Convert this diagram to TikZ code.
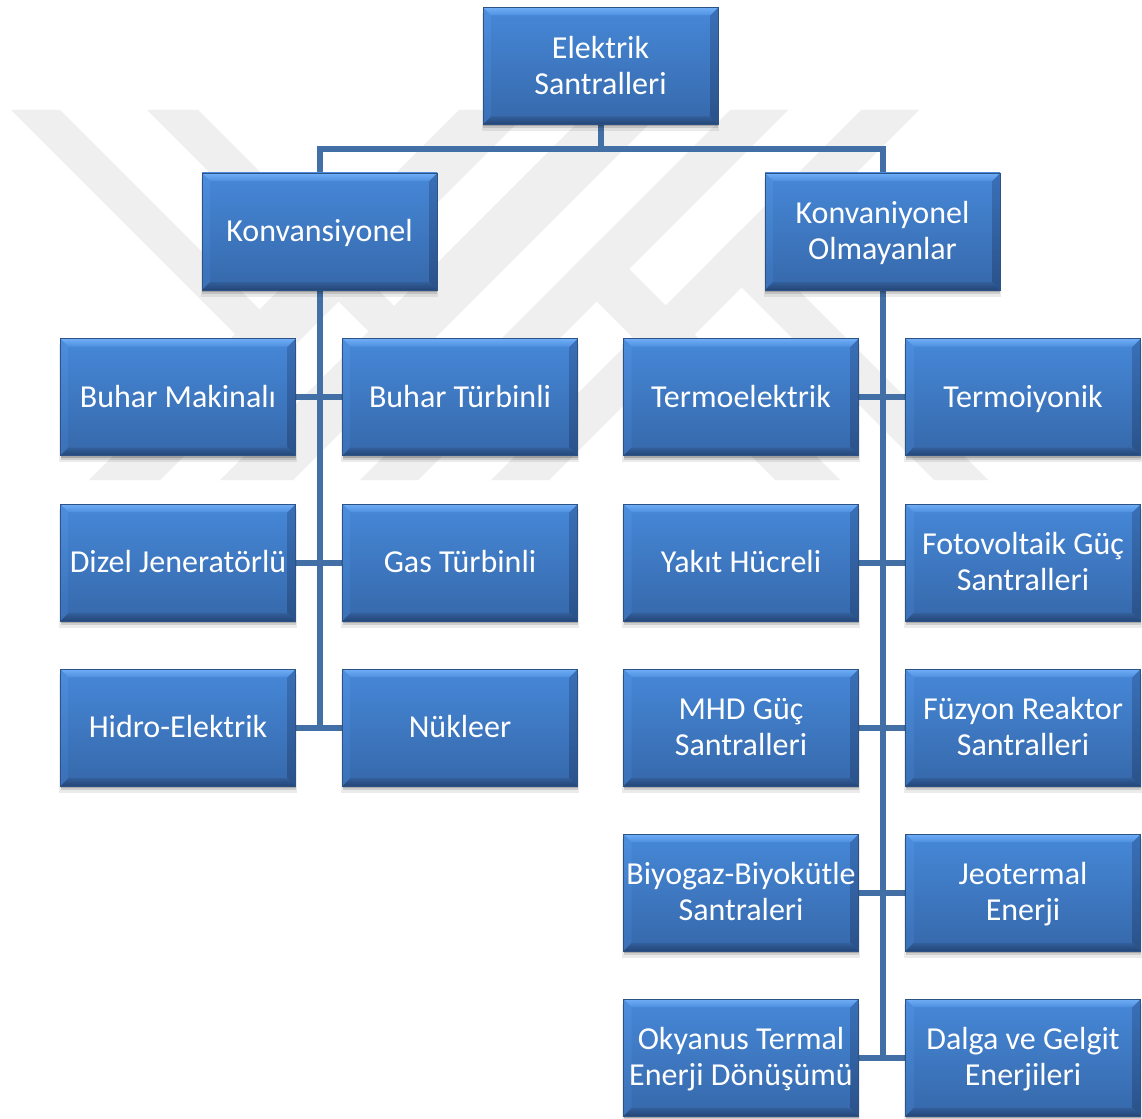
\documentclass[tikz,border=0pt]{standalone}
\usepackage{fontspec}
\newfontfamily\boxfont{Carlito}
\usetikzlibrary{calc,shadows,backgrounds}

\definecolor{wmgray}{RGB}{239,239,239}
\definecolor{connblue}{RGB}{66,112,166}
\definecolor{facetop}{RGB}{70,136,216}
\definecolor{facebot}{RGB}{54,104,170}
\definecolor{bevtopA}{RGB}{112,174,246}
\definecolor{bevtopB}{RGB}{78,144,224}
\definecolor{bevbotA}{RGB}{50,94,154}
\definecolor{bevbotB}{RGB}{36,70,118}
\definecolor{bevleftA}{RGB}{76,142,222}
\definecolor{bevleftB}{RGB}{58,112,182}
\definecolor{bevrightA}{RGB}{58,112,184}
\definecolor{bevrightB}{RGB}{42,82,138}
\definecolor{boxline}{RGB}{44,82,134}

\tikzset{
  x=1pt, y=1pt,
  box/.style={
    draw=boxline, line width=0.6pt,
    minimum width=235pt, minimum height=117pt, inner sep=0pt,
    top color=facetop, bottom color=facebot,
    text=white, align=center,
    text height=20.6pt, text depth=0pt,
    font={\boxfont\fontsize{32pt}{36pt}\selectfont},
    drop shadow={shadow xshift=0pt, shadow yshift=-6pt, shadow scale=1.01, opacity=0.08, fill=black},
    drop shadow={shadow xshift=0pt, shadow yshift=-4pt, opacity=0.12, fill=black},
    drop shadow={shadow xshift=0pt, shadow yshift=-2pt, opacity=0.18, fill=black},
    path picture={
      \path (path picture bounding box.north west) coordinate (pnw)
            (path picture bounding box.north east) coordinate (pne)
            (path picture bounding box.south west) coordinate (psw)
            (path picture bounding box.south east) coordinate (pse);
      \shade[top color=bevleftA, bottom color=bevleftB]
        (pnw) -- ($(pnw)+(8,-8)$) -- ($(psw)+(8,8)$) -- (psw) -- cycle;
      \shade[top color=bevrightA, bottom color=bevrightB]
        (pne) -- (pse) -- ($(pse)+(-8,8)$) -- ($(pne)+(-8,-8)$) -- cycle;
      \shade[top color=bevtopA, bottom color=bevtopB]
        (pnw) -- (pne) -- ($(pne)+(-8,-8)$) -- ($(pnw)+(8,-8)$) -- cycle;
      \shade[top color=bevbotA, bottom color=bevbotB]
        (psw) -- (pse) -- ($(pse)+(-8,8)$) -- ($(psw)+(8,8)$) -- cycle;
    }
  },
  twoline/.style={text height=56.6pt, text depth=0pt},
  connline/.style={draw=connblue, line width=6pt},
  wmark/.style={fill=wmgray, draw=none},
}

\begin{document}
\begin{tikzpicture}
\useasboundingbox (0,0) rectangle (1142,-1118);

% boxes
\node[box,twoline] (root) at (600.5,-66)   {Elektrik\\Santralleri};
\node[box] (konv) at (319.5,-231.5) {Konvansiyonel};
\node[box,twoline] (olm)  at (882.5,-231.5) {Konvaniyonel\\Olmayanlar};

\node[box] (a1) at (178,-397) {Buhar Makinalı};
\node[box] (b1) at (460,-397) {Buhar Türbinli};
\node[box] (c1) at (741,-397) {Termoelektrik};
\node[box] (d1) at (1023,-397) {Termoiyonik};

\node[box] (a2) at (178,-562.5) {Dizel Jeneratörlü};
\node[box] (b2) at (460,-562.5) {Gas Türbinli};
\node[box] (c2) at (741,-562.5) {Yakıt Hücreli};
\node[box,twoline] (d2) at (1023,-562.5) {Fotovoltaik Güç\\Santralleri};

\node[box] (a3) at (178,-727.5) {Hidro-Elektrik};
\node[box] (b3) at (460,-727.5) {Nükleer};
\node[box,twoline] (c3) at (741,-727.5) {MHD Güç\\Santralleri};
\node[box,twoline] (d3) at (1023,-727.5) {Füzyon Reaktor\\Santralleri};

\node[box,twoline] (c4) at (741,-892.5) {Biyogaz-Biyokütle\\Santraleri};
\node[box,twoline] (d4) at (1023,-892.5) {Jeotermal\\Enerji};

\node[box,twoline] (c5) at (741,-1057.5) {Okyanus Termal\\Enerji Dönüşümü};
\node[box,twoline] (d5) at (1023,-1057.5) {Dalga ve Gelgit\\Enerjileri};

\begin{scope}[on background layer]
  \fill[white] (0,0) rectangle (1142,-1118);
  % faint watermark
  \fill[wmark] (459,-110) -- (530,-110) -- (160,-480) -- (89,-480) -- cycle;
  \fill[wmark] (590,-110) -- (663,-110) -- (293,-480) -- (220,-480) -- cycle;
  \fill[wmark] (730,-110) -- (788,-110) -- (418,-480) -- (360,-480) -- cycle;
  \fill[wmark] (861,-110) -- (919,-110) -- (549,-480) -- (491,-480) -- cycle;
  \fill[wmark] (11,-110) -- (60,-110) -- (295,-345) -- (270.5,-369.5) -- cycle;
  \fill[wmark] (147,-110) -- (198,-110) -- (430.5,-342.5) -- (405,-368) -- cycle;
  \fill[wmark] (600,-240) -- (840,-480) -- (775,-480) -- (567.5,-272.5) -- cycle;
  \fill[wmark] (739.5,-231.5) -- (988,-480) -- (934,-480) -- (712.5,-258.5) -- cycle;

  % connectors
  \coordinate (bar) at (0,-149);
  \draw[connline] (root.south) -- (root.south |- bar);
  \draw[connline] (konv.north) -- (konv.north |- bar) -- (olm.north |- bar) -- (olm.north);
  \draw[connline] (konv.south) -- (konv.south |- a3.east);
  \draw[connline] (olm.south) -- (olm.south |- c5.east);
  \draw[connline] (a1.east) -- (b1.west);
  \draw[connline] (a2.east) -- (b2.west);
  \draw[connline] (a3.east) -- (b3.west);
  \draw[connline] (c1.east) -- (d1.west);
  \draw[connline] (c2.east) -- (d2.west);
  \draw[connline] (c3.east) -- (d3.west);
  \draw[connline] (c4.east) -- (d4.west);
  \draw[connline] (c5.east) -- (d5.west);
\end{scope}
\end{tikzpicture}
\end{document}
